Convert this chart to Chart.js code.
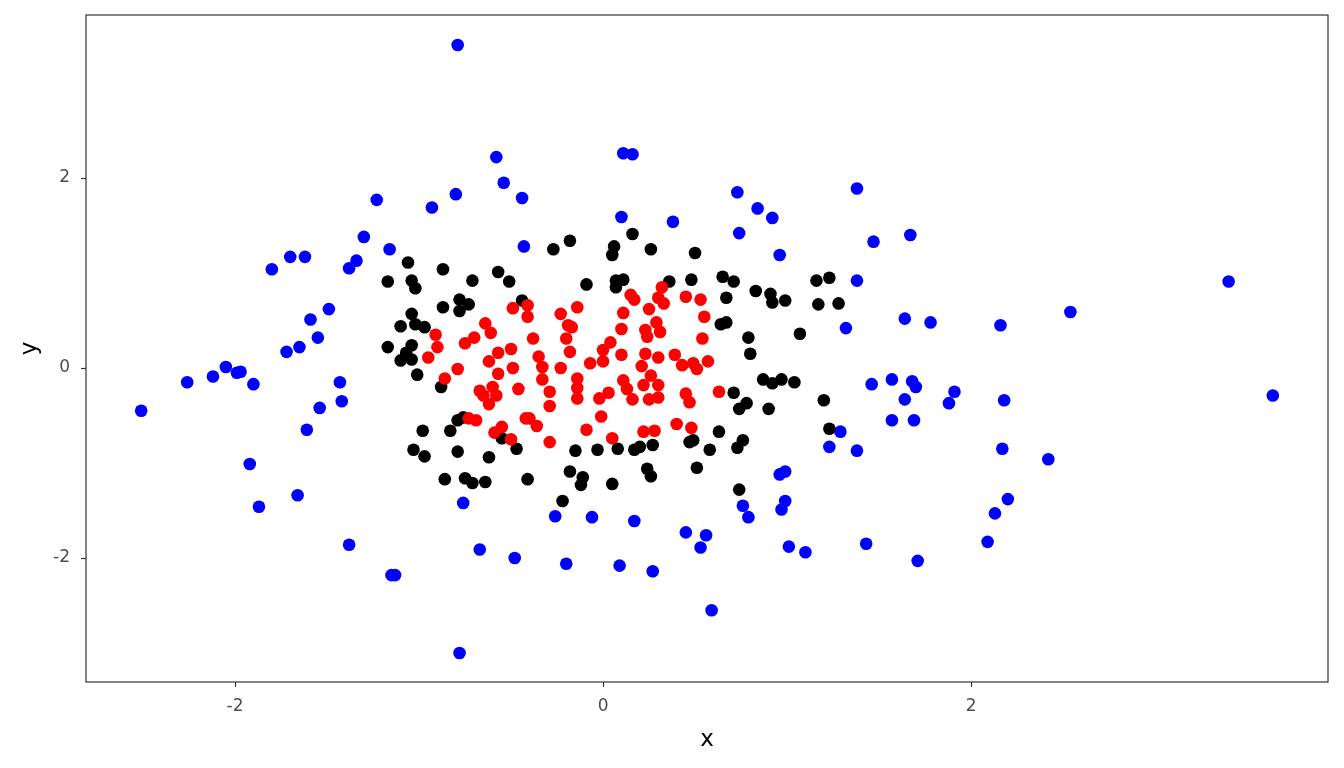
<!DOCTYPE html>
<html>
<head>
<meta charset="utf-8">
<title>Scatter</title>
<script src="https://cdn.jsdelivr.net/npm/chart.js@4"></script>
<style>
  html, body { margin: 0; padding: 0; background: #fff; }
  #wrap { width: 1344px; height: 768px; }
</style>
</head>
<body>
<div id="wrap"><canvas id="scatterChart" width="1344" height="768"></canvas></div>
<script>
// Points, [x, y]
const outerPoints = [
  [-2.51, -0.45], [-2.26, -0.15], [-2.12, -0.09], [-2.05, 0.01], [-1.99, -0.05], [-1.97, -0.04],
  [-1.90, -0.17], [-1.92, -1.01], [-1.87, -1.46], [-1.80, 1.04], [-1.70, 1.17], [-1.62, 1.17],
  [-1.72, 0.17], [-1.65, 0.22], [-1.59, 0.51], [-1.55, 0.32], [-1.54, -0.42], [-1.61, -0.65],
  [-1.66, -1.34], [-1.49, 0.62], [-1.43, -0.15], [-1.42, -0.35], [-1.38, 1.05], [-1.34, 1.13],
  [-1.30, 1.38], [-1.23, 1.77], [-1.38, -1.86], [-1.16, 1.25], [-1.15, -2.18], [-1.13, -2.18],
  [-0.93, 1.69], [-0.80, 1.83], [-0.79, 3.40], [-0.78, -3.00], [-0.76, -1.42], [-0.67, -1.91],
  [-0.58, 2.22], [-0.54, 1.95], [-0.48, -2.00], [-0.44, 1.79], [-0.43, 1.28], [-0.26, -1.56],
  [-0.20, -2.06], [-0.06, -1.57], [0.09, -2.08], [0.10, 1.59], [0.11, 2.26], [0.16, 2.25],
  [0.17, -1.61], [0.27, -2.14], [0.38, 1.54], [0.45, -1.73], [0.53, -1.89], [0.56, -1.76],
  [0.59, -2.55], [0.73, 1.85], [0.74, 1.42], [0.76, -1.45], [0.79, -1.57], [0.84, 1.68],
  [0.92, 1.58], [0.96, 1.19], [0.96, -1.12], [0.99, -1.09], [0.99, -1.40], [0.97, -1.49],
  [1.01, -1.88], [1.10, -1.94], [1.23, -0.83], [1.29, -0.67], [1.32, 0.42], [1.38, 1.89],
  [1.38, 0.92], [1.38, -0.87], [1.43, -1.85], [1.46, -0.17], [1.47, 1.33], [1.57, -0.12],
  [1.57, -0.55], [1.64, 0.52], [1.64, -0.33], [1.67, 1.40], [1.68, -0.14], [1.70, -0.20],
  [1.69, -0.55], [1.71, -2.03], [1.78, 0.48], [1.88, -0.37], [1.91, -0.25], [2.09, -1.83],
  [2.13, -1.53], [2.16, 0.45], [2.17, -0.85], [2.18, -0.34], [2.20, -1.38], [2.42, -0.96],
  [2.54, 0.59], [3.40, 0.91], [3.64, -0.29]
];

const middlePoints = [
  [-1.17, 0.91], [-1.17, 0.22], [-1.10, 0.44], [-1.10, 0.08], [-1.07, 0.16], [-1.06, 1.11],
  [-1.04, 0.92], [-1.04, 0.57], [-1.04, 0.24], [-1.04, 0.09], [-1.02, 0.46], [-1.02, 0.84],
  [-1.01, -0.07], [-0.97, 0.43], [-0.88, -0.20], [-0.87, 1.04], [-0.87, 0.64], [-0.78, 0.72],
  [-0.78, 0.60], [-0.73, 0.67], [-0.71, 0.92], [-0.57, 1.01], [-0.51, 0.91], [-0.44, 0.71],
  [-0.27, 1.25], [-0.18, 1.34], [-0.09, 0.88], [0.05, 1.19], [0.06, 1.28], [0.16, 1.41],
  [0.26, 1.25], [0.50, 1.21], [0.07, 0.92], [0.11, 0.93], [0.07, 0.85], [0.36, 0.91],
  [0.48, 0.93], [0.65, 0.96], [0.71, 0.91], [0.83, 0.81], [0.91, 0.78], [0.92, 0.69],
  [0.99, 0.71], [1.16, 0.92], [1.23, 0.95], [1.17, 0.67], [1.28, 0.68], [0.67, 0.74],
  [0.64, 0.46], [0.67, 0.48], [0.79, 0.32], [1.07, 0.36], [0.80, 0.15], [0.87, -0.12],
  [0.92, -0.16], [0.97, -0.12], [1.04, -0.15], [-0.79, -0.55], [-0.76, -0.52], [-0.98, -0.66],
  [-0.83, -0.66], [-0.55, -0.74], [-1.03, -0.86], [-0.97, -0.93], [-0.79, -0.88], [-0.62, -0.94],
  [-0.47, -0.85], [-0.15, -0.87], [-0.03, -0.86], [0.05, -1.22], [-0.86, -1.17], [-0.75, -1.16],
  [-0.71, -1.21], [-0.64, -1.20], [-0.41, -1.17], [-0.18, -1.09], [-0.11, -1.15], [-0.12, -1.23],
  [-0.22, -1.40], [0.08, -0.85], [0.17, -0.86], [0.20, -0.83], [0.27, -0.81], [0.47, -0.78],
  [0.49, -0.76], [0.63, -0.67], [0.58, -0.86], [0.73, -0.84], [0.76, -0.76], [0.24, -1.06],
  [0.26, -1.14], [0.51, -1.05], [0.74, -1.28], [0.71, -0.26], [0.74, -0.43], [0.78, -0.37],
  [0.90, -0.43], [1.20, -0.34], [1.23, -0.64]
];

const innerPoints = [
  [-0.49, 0.63], [-0.41, 0.66], [-0.41, 0.54], [-0.23, 0.57], [-0.14, 0.64], [-0.19, 0.45],
  [-0.17, 0.43], [-0.20, 0.31], [-0.64, 0.47], [-0.61, 0.37], [-0.91, 0.35], [-0.90, 0.22],
  [-0.75, 0.26], [-0.70, 0.32], [-0.38, 0.31], [-0.95, 0.11], [-0.62, 0.07], [-0.57, 0.16],
  [-0.50, 0.20], [-0.49, 0.00], [-0.57, -0.06], [-0.35, 0.12], [-0.33, 0.01], [-0.23, 0.00],
  [-0.18, 0.17], [-0.07, 0.05], [0.00, 0.19], [0.00, 0.07], [0.04, 0.27], [-0.79, -0.01],
  [-0.86, -0.11], [-0.33, -0.12], [-0.14, -0.11], [0.15, 0.77], [0.17, 0.72], [0.32, 0.85],
  [0.30, 0.74], [0.33, 0.68], [0.45, 0.75], [0.53, 0.72], [0.25, 0.62], [0.11, 0.58],
  [0.55, 0.54], [0.29, 0.48], [0.23, 0.40], [0.24, 0.33], [0.31, 0.38], [0.10, 0.41],
  [0.54, 0.31], [0.10, 0.14], [0.23, 0.15], [0.30, 0.11], [0.39, 0.14], [0.43, 0.03],
  [0.49, 0.05], [0.51, -0.01], [0.57, 0.07], [0.21, 0.02], [0.26, -0.08], [0.11, -0.13],
  [-0.14, -0.21], [-0.14, -0.32], [-0.67, -0.24], [-0.60, -0.20], [-0.65, -0.29], [-0.58, -0.29],
  [-0.62, -0.38], [-0.46, -0.22], [-0.29, -0.25], [-0.29, -0.40], [-0.02, -0.32], [0.03, -0.26],
  [-0.73, -0.53], [-0.69, -0.55], [-0.42, -0.53], [-0.40, -0.53], [-0.36, -0.61], [-0.55, -0.62],
  [-0.59, -0.68], [-0.50, -0.75], [-0.29, -0.78], [-0.01, -0.51], [-0.09, -0.65], [0.05, -0.74],
  [0.13, -0.22], [0.16, -0.33], [0.22, -0.18], [0.30, -0.18], [0.25, -0.33], [0.30, -0.31],
  [0.45, -0.27], [0.47, -0.36], [0.63, -0.25], [0.40, -0.59], [0.48, -0.63], [0.22, -0.67],
  [0.28, -0.66]
];

const xTicks = [-2, 0, 2];
const yTicks = [-2, 0, 2];
const xRange = [-2.81, 3.94];
const yRange = [-3.305, 3.716];

const inkColor = '#333333';
const tickTextColor = '#4D4D4D';
const fontFamily = '"DejaVu Sans", "Liberation Sans", Arial, sans-serif';

function toXY(points) {
    return points.map(p => ({ x: p[0], y: p[1] }));
}

// ggplot-like panel border drawn over the points
const panelBorder = {
    id: 'panelBorder',
    afterDatasetsDraw(chart) {
        const { ctx, chartArea } = chart;
        ctx.save();
        ctx.strokeStyle = inkColor;
        ctx.lineWidth = 1.2;
        ctx.strokeRect(chartArea.left, chartArea.top,
            chartArea.right - chartArea.left, chartArea.bottom - chartArea.top);
        ctx.restore();
    }
};

function axisOptions(range, ticks, title, isX) {
    return {
        type: 'linear',
        min: range[0],
        max: range[1],
        afterBuildTicks: axis => { axis.ticks = ticks.map(v => ({ value: v })); },
        afterFit: axis => {
            if (isX) axis.height = 86; else axis.width = 86;
            // labels never sit at the panel edges, so no extra room is needed
            axis.paddingTop = 0;
            axis.paddingBottom = 0;
            axis.paddingLeft = 0;
            axis.paddingRight = 0;
        },
        grid: {
            drawOnChartArea: false,
            drawTicks: true,
            tickLength: 5,
            tickWidth: 1.2,
            color: inkColor
        },
        border: { display: false },
        ticks: {
            color: tickTextColor,
            font: { family: fontFamily, size: 17 },
            padding: isX ? 9 : 11,
            maxRotation: 0,
            callback: v => String(v)
        },
        title: {
            display: true,
            text: title,
            color: '#000000',
            font: { family: fontFamily, size: 23 },
            padding: isX ? { top: 0, bottom: 14 } : { top: 16, bottom: 0 }
        }
    };
}

const ctx = document.getElementById('scatterChart').getContext('2d');
const scatterChart = new Chart(ctx, {
    type: 'scatter',
    data: {
        datasets: [
            { label: 'inner', data: toXY(innerPoints), backgroundColor: '#FF0000' },
            { label: 'middle', data: toXY(middlePoints), backgroundColor: '#000000' },
            { label: 'outer', data: toXY(outerPoints), backgroundColor: '#0000FF' }
        ]
    },
    options: {
        responsive: false,
        animation: false,
        devicePixelRatio: 1,
        layout: { padding: { top: 15, right: 16, left: 0, bottom: 0 } },
        elements: {
            point: { radius: 6.3, borderWidth: 0, hoverRadius: 6.3 }
        },
        plugins: {
            legend: { display: false },
            tooltip: { enabled: false }
        },
        scales: {
            x: axisOptions(xRange, xTicks, 'x', true),
            y: axisOptions(yRange, yTicks, 'y', false)
        }
    },
    plugins: [panelBorder]
});
</script>
</body>
</html>
